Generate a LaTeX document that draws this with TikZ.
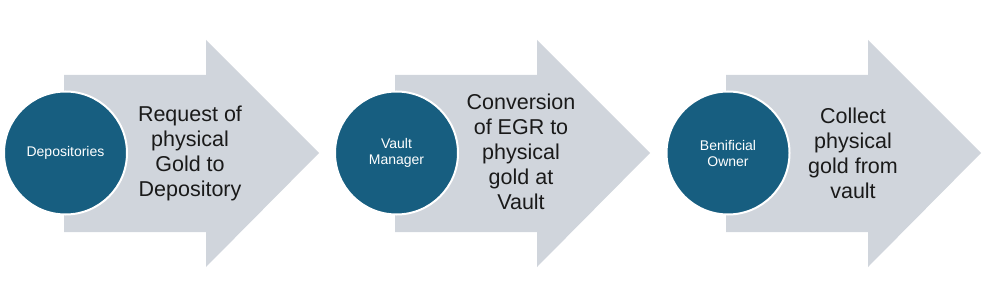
\documentclass[tikz,border=0pt]{standalone}
\usepackage{fontspec}
\setmainfont{Liberation Sans}
\definecolor{arrowgrey}{HTML}{D0D5DC}
\definecolor{circleblue}{HTML}{175E80}
\definecolor{textdark}{HTML}{1A1A1A}
\begin{document}
\begin{tikzpicture}[x=1pt,y=-1pt,
  blockarrow/.style={fill=arrowgrey,draw=none},
  stepcircle/.style={circle,fill=circleblue,draw=white,line width=2pt,minimum size=123pt,inner sep=0pt,
    text=white,align=center,font=\fontsize{14}{16}\selectfont},
  steptext/.style={align=center,text=textdark,font=\fontsize{21.5}{25}\selectfont,inner sep=0pt}]
\useasboundingbox (0,0) rectangle (982,307);
\foreach \dx/\n in {0/a,331/b,662/c}{
  \begin{scope}[xshift=\dx pt]
  \fill[blockarrow] (64,75) -- (206,75) -- (206,40) -- (319,153) -- (206,267) -- (206,232) -- (64,232) -- cycle;
  \end{scope}
}
\node[stepcircle] (c1) at (65.5,153) {Depositories};
\node[stepcircle] (c2) at (396.5,153) {Vault\\Manager};
\node[stepcircle] (c3) at (728,153) {Benificial\\Owner};
\node[steptext] (t1) at (190,153) {Request of\\physical\\Gold to\\Depository};
\node[steptext] (t2) at (521,152) {Conversion\\of EGR to\\physical\\gold at\\Vault};
\node[steptext] (t3) at (853,153) {Collect\\physical\\gold from\\vault};
\end{tikzpicture}
\end{document}
